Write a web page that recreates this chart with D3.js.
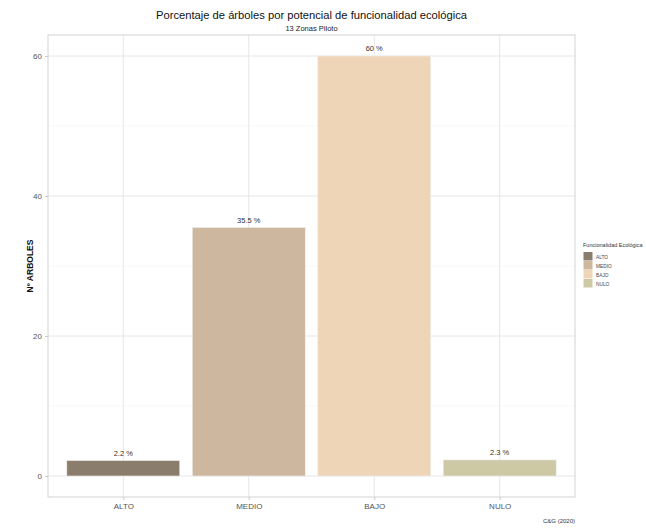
<!DOCTYPE html>
<html><head><meta charset="utf-8">
<script src="https://cdn.jsdelivr.net/npm/d3@7/dist/d3.min.js"></script>
<style>body{margin:0;background:#fff}svg{display:block;font-family:"Liberation Sans",Arial,sans-serif}</style>
</head><body>
<svg id="c" width="646" height="530"></svg>
<script>
const categories = ["ALTO", "MEDIO", "BAJO", "NULO"];
const values = [2.2, 35.5, 60, 2.3];
const labels = ["2.2 %", "35.5 %", "60 %", "2.3 %"];
const colors = ["#8B7D6B", "#CDB79E", "#EED5B7", "#CDC9A5"];
const yTicks = [0, 20, 40, 60];
const yMinor = [10, 30, 50];

const svg = d3.select("#c");
const P = {left: 48, right: 575, top: 35, bottom: 497};

const x = d3.scalePoint().domain(categories).range([P.left, P.right]).padding(0.6);
const step = x.step();
const y = d3.scaleLinear().domain([-3, 63]).range([P.bottom, P.top]);

svg.append("rect").attr("x", P.left).attr("y", P.top).attr("width", P.right - P.left).attr("height", P.bottom - P.top)
  .attr("fill", "#fff");
const g = svg.append("g");
yMinor.forEach(v => g.append("line").attr("x1", P.left).attr("x2", P.right).attr("y1", y(v)).attr("y2", y(v))
  .attr("stroke", "#F2F2F2").attr("stroke-width", 0.6));
yTicks.forEach(v => g.append("line").attr("x1", P.left).attr("x2", P.right).attr("y1", y(v)).attr("y2", y(v))
  .attr("stroke", "#E6E6E6").attr("stroke-width", 1));
categories.forEach(c => g.append("line").attr("x1", x(c)).attr("x2", x(c)).attr("y1", P.top).attr("y2", P.bottom)
  .attr("stroke", "#E6E6E6").attr("stroke-width", 1));

svg.selectAll(".bar").data(categories).enter().append("rect")
  .attr("x", (c) => x(c) - step * 0.45)
  .attr("width", step * 0.9)
  .attr("y", (c, i) => y(values[i]))
  .attr("height", (c, i) => y(0) - y(values[i]))
  .attr("fill", (c, i) => colors[i])
  .attr("stroke", "#EDEDED").attr("stroke-width", 0.6);

svg.selectAll(".lab").data(categories).enter().append("text")
  .attr("x", c => x(c)).attr("y", (c, i) => y(values[i]) - 5)
  .attr("text-anchor", "middle").attr("font-size", 7.5).attr("fill", "#333")
  .text((c, i) => labels[i]);

svg.append("rect").attr("x", P.left).attr("y", P.top).attr("width", P.right - P.left).attr("height", P.bottom - P.top)
  .attr("fill", "none").attr("stroke", "#D3D3D3").attr("stroke-width", 1);

const ya = svg.append("g").attr("transform", `translate(${P.left},0)`)
  .call(d3.axisLeft(y).tickValues(yTicks).tickSize(3).tickPadding(3).tickFormat(d3.format("d")));
ya.select(".domain").remove();
ya.selectAll("line").attr("stroke", "#C8C8C8");
ya.selectAll("text").attr("font-size", 8).attr("fill", "#555").attr("font-family", "Liberation Sans, Arial, sans-serif");

const xa = svg.append("g").attr("transform", `translate(0,${P.bottom})`)
  .call(d3.axisBottom(x).tickSize(3).tickPadding(3));
xa.select(".domain").remove();
xa.selectAll("line").attr("stroke", "#C8C8C8");
xa.selectAll("text").attr("font-size", 8).attr("fill", "#555").attr("font-family", "Liberation Sans, Arial, sans-serif");

const cx = (P.left + P.right) / 2;
svg.append("text").attr("x", cx).attr("y", 19).attr("text-anchor", "middle").attr("font-size", 11.2).attr("fill", "#111")
  .text("Porcentaje de árboles por potencial de funcionalidad ecológica");
svg.append("text").attr("x", cx).attr("y", 30.5).attr("text-anchor", "middle").attr("font-size", 7.5).attr("fill", "#222")
  .text("13 Zonas Piloto");
svg.append("text").attr("transform", `translate(33,${(P.top + P.bottom) / 2}) rotate(-90)`)
  .attr("text-anchor", "middle").attr("font-size", 8.5).attr("font-weight", "bold").attr("fill", "#111")
  .text("Nº ARBOLES");
svg.append("text").attr("x", P.right).attr("y", 523).attr("text-anchor", "end").attr("font-size", 6).attr("fill", "#333")
  .text("C&G (2020)");

const lg = svg.append("g").attr("transform", "translate(583,243)");
lg.append("text").attr("x", 0).attr("y", 4).attr("font-size", 5.5).attr("fill", "#333").text("Funcionalidad Ecológica");
categories.forEach((c, i) => {
  lg.append("rect").attr("x", 0.5).attr("y", 9 + i * 9).attr("width", 9).attr("height", 8.5).attr("fill", colors[i]);
  lg.append("text").attr("x", 13).attr("y", 15.5 + i * 9).attr("font-size", 4.8).attr("fill", "#444").text(c);
});
</script>
</body></html>
